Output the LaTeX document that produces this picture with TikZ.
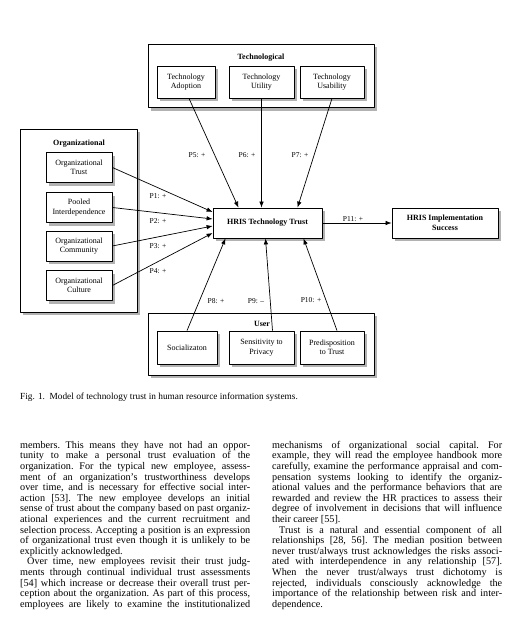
\documentclass[tikz,border=0pt]{standalone}
\usepackage{fontspec}
\setmainfont{Liberation Serif}
\usetikzlibrary{shadows,arrows.meta}

\begin{document}
\begin{tikzpicture}[x=1pt,y=-1pt,>={Latex[length=6pt,width=4.5pt]},line join=round,
		shadowed/.style={drop shadow={shadow xshift=3pt,shadow yshift=-3pt,fill=black!30,opacity=1}},
		group/.style={draw,fill=white,line width=0.8pt,shadowed,inner sep=0pt},
		factor/.style={draw,fill=white,line width=0.8pt,shadowed,inner sep=0pt,align=center,font=\fontsize{8}{9.5}\selectfont},
		title/.style={font=\fontsize{8}{9.5}\selectfont\bfseries},
		prop/.style={font=\fontsize{7.5}{9}\selectfont},
		link/.style={->,line width=0.7pt},
		column/.style={text width=230pt,align=justify,inner sep=0pt,anchor=north west,font=\fontsize{10.2}{10.6}\selectfont}]
	\fill[white] (0,0) rectangle (513,618);
	\useasboundingbox (0,0) rectangle (513,618);
	% groups of factors
	\node[group,minimum width=226pt,minimum height=63pt] (tech) at (261,76) {};
	\node[group,minimum width=117pt,minimum height=183pt] (org) at (78.5,220.5) {};
	\node[group,minimum width=226pt,minimum height=62pt] (user) at (261,344) {};
	\node[title] (techtitle) at (261,57.5) {Technological};
	\node[title] (orgtitle) at (79,144) {Organizational};
	\node[title] (usertitle) at (262,323.5) {User};
	% technological
	\node[factor,minimum width=58pt,minimum height=32pt] (adoption) at (186,82) {Technology\\Adoption};
	\node[factor,minimum width=65pt,minimum height=32pt] (utility) at (261.5,82) {Technology\\Utility};
	\node[factor,minimum width=64pt,minimum height=32pt] (usability) at (332,82) {Technology\\Usability};
	% organizational
	\node[factor,minimum width=66pt,minimum height=30pt] (orgtrust) at (79,167.5) {Organizational\\Trust};
	\node[factor,minimum width=66pt,minimum height=30pt] (pooled) at (79,207.5) {Pooled\\Interdependence};
	\node[factor,minimum width=66pt,minimum height=30pt] (community) at (79,246) {Organizational\\Community};
	\node[factor,minimum width=66pt,minimum height=30pt] (culture) at (79,285.5) {Organizational\\Culture};
	% user
	\node[factor,minimum width=60pt,minimum height=33pt] (social) at (187,347.5) {Socializaton};
	\node[factor,minimum width=65pt,minimum height=33pt] (privacy) at (261.5,347.5) {Sensitivity to\\Privacy};
	\node[factor,minimum width=64pt,minimum height=33pt] (predisp) at (332,347.5) {Predisposition\\to Trust};
	% outcome
	\node[factor,font=\fontsize{8}{9.5}\selectfont\bfseries,minimum width=109pt,minimum height=30pt] (trust) at (267.5,223) {HRIS Technology Trust};
	\node[factor,font=\fontsize{8}{9.5}\selectfont\bfseries,minimum width=106pt,minimum height=30pt] (success) at (445,223) {HRIS Implementation\\Success};
	% propositions
	\draw[link] (orgtrust.east) -- ([yshift=11pt]trust.west);
	\draw[link] (pooled.east) -- ([yshift=4pt]trust.west);
	\draw[link] (community.east) -- ([yshift=-3pt]trust.west);
	\draw[link] (culture.east) -- ([yshift=-10pt]trust.west);
	\draw[link] ([xshift=3pt]adoption.south) -- ([xshift=-29pt]trust.north);
	\draw[link] (utility.south) -- (utility.south |- trust.north);
	\draw[link] (usability.south) -- ([xshift=30pt]trust.north);
	\draw[link] (social.north) -- ([xshift=-42pt]trust.south);
	\draw[link] ([xshift=11pt]privacy.north) -- ([xshift=-2pt]trust.south);
	\draw[link] ([xshift=5pt]predisp.north) -- ([xshift=36pt]trust.south);
	\draw[link] (trust) -- (success);
	\node[prop] (p1) at (158,196) {P1: +};
	\node[prop] (p2) at (158,221) {P2: +};
	\node[prop] (p3) at (158,246) {P3: +};
	\node[prop] (p4) at (158,271) {P4: +};
	\node[prop] (p5) at (197,155) {P5: +};
	\node[prop] (p6) at (247,155) {P6: +};
	\node[prop] (p7) at (300,155) {P7: +};
	\node[prop] (p8) at (216,301) {P8: +};
	\node[prop] (p9) at (256,301) {P9: --};
	\node[prop] (p10) at (311,300) {P10: +};
	\node[prop] (p11) at (353,219) {P11: +};
	% caption and text
	\node[anchor=base west,inner sep=0pt,font=\fontsize{9.3}{11}\selectfont] (caption) at (20,399)
		{Fig. 1.\enspace Model of technology trust in human resource information systems.};
	\node[column] (left) at (20,441) {\frenchspacing\tolerance=10000\pretolerance=10000\noindent
		members. This means they have not had an oppor-\linebreak
		tunity to make a personal trust evaluation of the\linebreak
		organization. For the typical new employee, assess-\linebreak
		ment of an organization's trustworthiness develops\linebreak
		over time, and is necessary for effective social inter-\linebreak
		action [53]. The new employee develops an initial\linebreak
		sense of trust about the company based on past organiz-\linebreak
		ational experiences and the current recruitment and\linebreak
		selection process. Accepting a position is an expression\linebreak
		of organizational trust even though it is unlikely to be\linebreak
		explicitly acknowledged.\par
		\hspace*{7pt}Over time, new employees revisit their trust judg-\linebreak
		ments through continual individual trust assessments\linebreak
		{[54]} which increase or decrease their overall trust per-\linebreak
		ception about the organization. As part of this process,\linebreak
		employees are likely to examine the institutionalized\parfillskip=0pt\par};
	\node[column] (right) at (272,441) {\frenchspacing\tolerance=10000\pretolerance=10000\noindent
		mechanisms of organizational social capital. For\linebreak
		example, they will read the employee handbook more\linebreak
		carefully, examine the performance appraisal and com-\linebreak
		pensation systems looking to identify the organiz-\linebreak
		ational values and the performance behaviors that are\linebreak
		rewarded and review the HR practices to assess their\linebreak
		degree of involvement in decisions that will influence\linebreak
		their career [55].\par
		\hspace*{7pt}Trust is a natural and essential component of all\linebreak
		relationships [28, 56]. The median position between\linebreak
		never trust/always trust acknowledges the risks associ-\linebreak
		ated with interdependence in any relationship [57].\linebreak
		When the never trust/always trust dichotomy is\linebreak
		rejected, individuals consciously acknowledge the\linebreak
		importance of the relationship between risk and inter-\linebreak
		dependence.};
\end{tikzpicture}
\end{document}
